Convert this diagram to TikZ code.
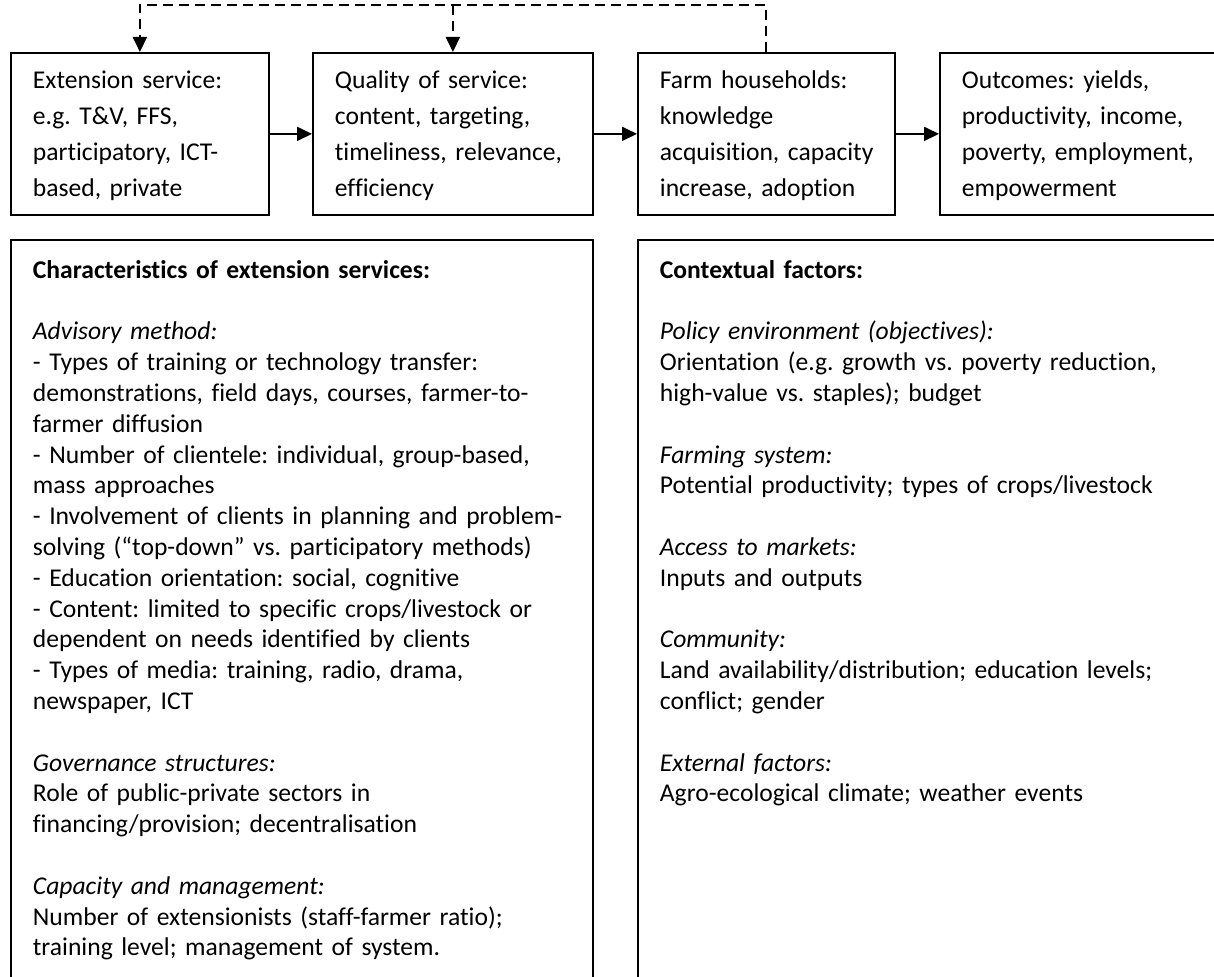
\documentclass[tikz,border=0pt]{standalone}
\usepackage{fontspec}
\setmainfont[Ligatures={NoCommon,NoContextual}]{Carlito}
\usepackage{tikz}
\usetikzlibrary{arrows.meta}
\frenchspacing

\begin{document}
\begin{tikzpicture}[x=0.5pt, y=-0.5pt,
  top box/.style={draw, line width=0.9pt, anchor=north west, inner xsep=11pt, inner ysep=9pt, text height=9pt, text depth=54pt, font=\fontsize{12.8pt}{18pt}\selectfont},
  factor box/.style={draw, line width=0.9pt, anchor=north west, align=left, inner xsep=11pt, inner ysep=10.25pt, text height=9pt, text depth=352pt, font=\fontsize{12.8pt}{15.4pt}\selectfont},
  flow/.style={line width=0.9pt, -{Triangle[length=7.5pt, width=7pt]}},
  feedback/.style={flow, line width=1pt, dash pattern=on 5pt off 3pt}]
\useasboundingbox (0,0) rectangle (1214,977);
\clip (0,0) rectangle (1214,977);

\node[top box, text width=107pt] (extension service) at (10,52) {\begin{tabular}[t]{@{}l@{}}
Extension service: \\
e.g. T\&V, FFS, \\
participatory, ICT- \\
based, private
\end{tabular}};

\node[top box, text width=118pt] (quality of service) at (312,52) {\begin{tabular}[t]{@{}l@{}}
Quality of service: \\
content, targeting, \\
timeliness, relevance, \\
efficiency
\end{tabular}};

\node[top box, text width=106.5pt] (farm households) at (637,52) {\begin{tabular}[t]{@{}l@{}}
Farm households: \\
knowledge \\
acquisition, capacity \\
increase, adoption
\end{tabular}};

\node[top box, text width=128.5pt] (outcomes) at (939,52) {\begin{tabular}[t]{@{}l@{}}
Outcomes: yields, \\
productivity, income, \\
poverty, employment, \\
empowerment
\end{tabular}};

\draw[flow] (extension service) -- (quality of service);
\draw[flow] (quality of service) -- (farm households);
\draw[flow] (farm households) -- (outcomes);

% feedback from the households to the service
\coordinate (feedback line) at (0,5);
\draw[feedback] (farm households.north) -- (farm households.north |- feedback line) -| (extension service.north);
\draw[feedback] (quality of service.north |- feedback line) -- (quality of service.north);

\node[factor box, text width=269pt] (characteristics) at (10,239) {\textbf{Characteristics of extension services:}\\[\baselineskip]
\textit{Advisory method:}\\
- Types of training or technology transfer:\\
demonstrations, field days, courses, farmer-to-\\
farmer diffusion\\
- Number of clientele: individual, group-based,\\
mass approaches\\
- Involvement of clients in planning and problem-\\
solving (“top-down” vs. participatory methods)\\
- Education orientation: social, cognitive\\
- Content: limited to specific crops/livestock or\\
dependent on needs identified by clients\\
- Types of media: training, radio, drama,\\
newspaper, ICT\\[\baselineskip]
\textit{Governance structures:}\\
Role of public-private sectors in\\
financing/provision; decentralisation\\[\baselineskip]
\textit{Capacity and management:}\\
Number of extensionists (staff-farmer ratio);\\
training level; management of system.};

\node[factor box, text width=279.5pt] (contextual factors) at (637,239) {\textbf{Contextual factors:}\\[\baselineskip]
\textit{Policy environment (objectives):}\\
Orientation (e.g. growth vs. poverty reduction,\\
high-value vs. staples); budget\\[\baselineskip]
\textit{Farming system:}\\
Potential productivity; types of crops/livestock\\[\baselineskip]
\textit{Access to markets:}\\
Inputs and outputs\\[\baselineskip]
\textit{Community:}\\
Land availability/distribution; education levels;\\
conflict; gender\\[\baselineskip]
\textit{External factors:}\\
Agro-ecological climate; weather events};
\end{tikzpicture}
\end{document}
